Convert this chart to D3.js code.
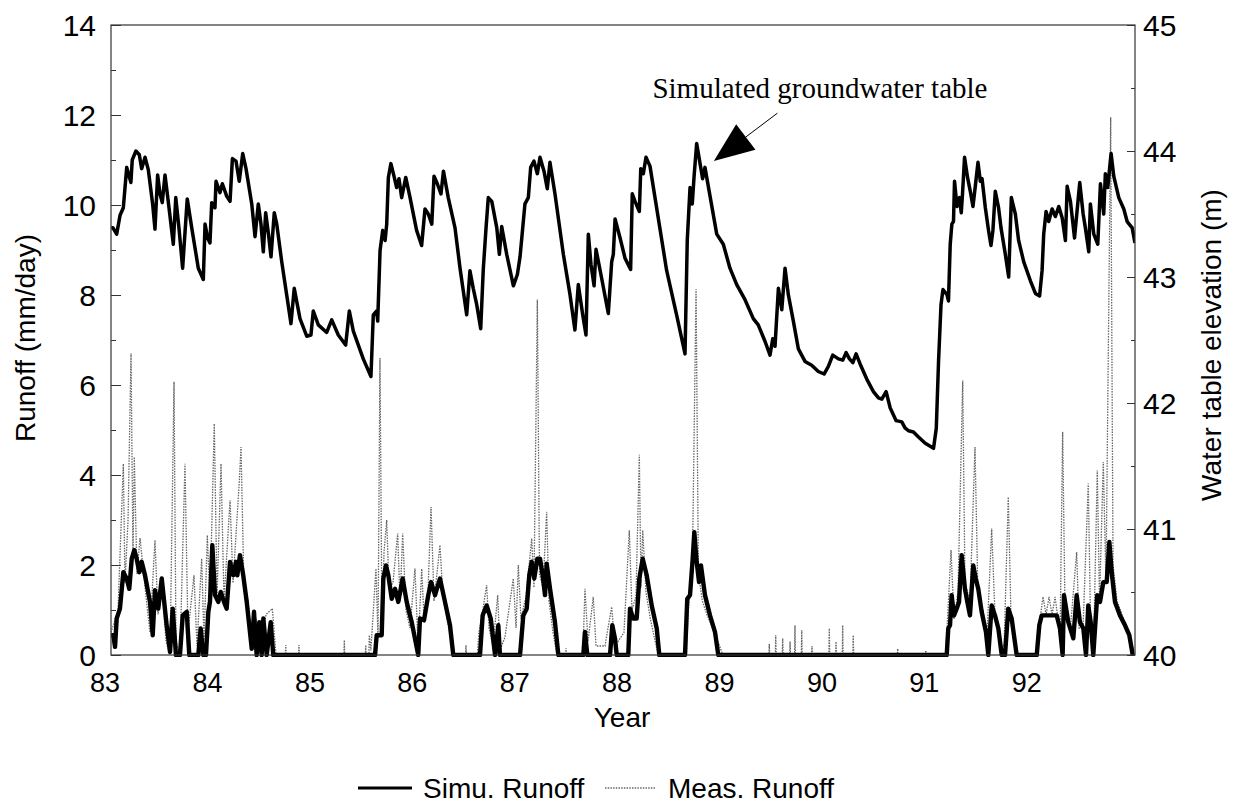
<!DOCTYPE html>
<html>
<head>
<meta charset="utf-8">
<script src="https://cdn.jsdelivr.net/npm/d3@7"></script>
<style>
  body { margin: 0; background: #fff; }
  svg text { font-family: "Liberation Sans", Arial, sans-serif; fill: #000; }
</style>
</head>
<body>
<div id="chart"></div>
<script>
// ---- data ----
var yearTicks = [83, 84, 85, 86, 87, 88, 89, 90, 91, 92];
var runoffTicks = [0, 2, 4, 6, 8, 10, 12, 14];
var runoffMinor = [1, 3, 5, 7, 9, 11, 13];
var elevTicks = [40, 41, 42, 43, 44, 45];
var elevMinor = [40.5, 41.5, 42.5, 43.5, 44.5];

// simulated groundwater table [year, m]
var waterTable = [
  [83.065,43.39],[83.082,43.39],[83.118,43.34],[83.151,43.49],[83.183,43.55],[83.216,43.87],[83.257,43.75],
  [83.270,43.93],[83.306,44.00],[83.339,43.97],[83.362,43.86],[83.395,43.95],[83.427,43.85],[83.469,43.58],
  [83.492,43.38],[83.518,43.81],[83.541,43.66],[83.563,43.59],[83.590,43.81],[83.629,43.55],[83.671,43.26],
  [83.695,43.63],[83.726,43.39],[83.762,43.07],[83.807,43.62],[83.851,43.39],[83.915,43.07],[83.964,42.98],
  [83.981,43.42],[84.006,43.31],[84.029,43.27],[84.046,43.59],[84.078,43.55],[84.088,43.76],[84.127,43.67],
  [84.150,43.74],[84.193,43.64],[84.225,43.60],[84.248,43.94],[84.283,43.92],[84.315,43.76],[84.349,43.98],
  [84.381,43.86],[84.437,43.58],[84.469,43.32],[84.501,43.58],[84.527,43.42],[84.550,43.20],[84.573,43.51],
  [84.599,43.35],[84.625,43.16],[84.657,43.51],[84.681,43.42],[84.730,43.12],[84.778,42.86],[84.820,42.63],
  [84.852,42.91],[84.908,42.67],[84.974,42.53],[85.015,42.54],[85.038,42.73],[85.087,42.62],[85.169,42.56],
  [85.218,42.66],[85.282,42.54],[85.354,42.46],[85.390,42.73],[85.429,42.57],[85.526,42.35],[85.601,42.21],
  [85.624,42.70],[85.657,42.73],[85.667,42.65],[85.690,43.21],[85.716,43.37],[85.739,43.29],[85.755,43.42],
  [85.771,43.79],[85.796,43.90],[85.829,43.79],[85.852,43.71],[85.875,43.78],[85.901,43.63],[85.941,43.79],
  [85.983,43.63],[86.047,43.37],[86.096,43.25],[86.129,43.54],[86.161,43.50],[86.195,43.42],[86.217,43.80],
  [86.249,43.74],[86.285,43.66],[86.309,43.84],[86.356,43.63],[86.422,43.39],[86.471,43.07],[86.536,42.70],
  [86.568,43.05],[86.600,42.91],[86.634,42.78],[86.673,42.59],[86.698,43.06],[86.725,43.39],[86.747,43.63],
  [86.781,43.60],[86.830,43.39],[86.855,43.18],[86.878,43.40],[86.927,43.18],[86.992,42.93],[87.031,43.02],
  [87.057,43.16],[87.105,43.58],[87.138,43.63],[87.161,43.87],[87.193,43.92],[87.226,43.82],[87.252,43.95],
  [87.291,43.84],[87.323,43.70],[87.349,43.91],[87.398,43.66],[87.480,43.18],[87.545,42.86],[87.593,42.58],
  [87.626,42.94],[87.669,42.70],[87.701,42.54],[87.724,43.34],[87.750,43.10],[87.780,42.93],[87.799,43.22],
  [87.854,42.99],[87.919,42.71],[87.952,43.12],[87.968,43.18],[87.985,43.46],[88.034,43.31],[88.082,43.15],
  [88.137,43.06],[88.153,43.66],[88.180,43.60],[88.222,43.52],[88.236,43.86],[88.261,43.82],[88.287,43.95],
  [88.326,43.88],[88.375,43.63],[88.489,43.05],[88.586,42.70],[88.668,42.39],[88.690,43.29],[88.717,43.71],
  [88.739,43.58],[88.756,43.79],[88.782,44.06],[88.815,43.90],[88.840,43.78],[88.863,43.87],[88.978,43.34],
  [89.042,43.26],[89.107,43.07],[89.173,42.94],[89.254,42.82],[89.335,42.67],[89.383,42.62],[89.449,42.49],
  [89.498,42.38],[89.525,42.51],[89.547,42.45],[89.580,42.91],[89.613,42.74],[89.645,43.07],[89.677,42.86],
  [89.726,42.65],[89.775,42.43],[89.840,42.33],[89.905,42.30],[89.970,42.25],[90.026,42.23],[90.068,42.29],
  [90.111,42.38],[90.166,42.35],[90.209,42.34],[90.241,42.40],[90.274,42.35],[90.307,42.32],[90.339,42.39],
  [90.378,42.31],[90.443,42.19],[90.508,42.09],[90.557,42.04],[90.590,42.03],[90.632,42.09],[90.672,41.96],
  [90.730,41.86],[90.785,41.85],[90.818,41.80],[90.850,41.78],[90.899,41.77],[90.948,41.73],[91.014,41.68],
  [91.095,41.64],[91.122,41.80],[91.144,42.33],[91.168,42.78],[91.187,42.90],[91.226,42.86],[91.241,42.81],
  [91.258,43.26],[91.274,43.42],[91.290,43.44],[91.300,43.76],[91.324,43.56],[91.349,43.63],[91.366,43.51],
  [91.378,43.66],[91.398,43.95],[91.427,43.79],[91.454,43.68],[91.480,43.56],[91.503,43.72],[91.529,43.91],
  [91.552,43.76],[91.569,43.78],[91.601,43.55],[91.632,43.37],[91.656,43.25],[91.675,43.37],[91.698,43.68],
  [91.730,43.55],[91.754,43.39],[91.796,43.18],[91.829,43.00],[91.855,43.63],[91.894,43.50],[91.926,43.29],
  [91.976,43.12],[92.041,42.97],[92.090,42.87],[92.131,42.85],[92.155,43.05],[92.171,43.34],[92.194,43.52],
  [92.220,43.44],[92.253,43.54],[92.285,43.48],[92.318,43.56],[92.351,43.47],[92.383,43.29],[92.400,43.72],
  [92.432,43.60],[92.472,43.31],[92.523,43.75],[92.556,43.50],[92.578,43.39],[92.611,43.20],[92.627,43.58],
  [92.660,43.34],[92.699,43.26],[92.725,43.74],[92.757,43.50],[92.773,43.82],[92.796,43.71],[92.829,43.98],
  [92.855,43.80],[92.904,43.63],[92.953,43.54],[92.986,43.44],[93.035,43.39],[93.062,43.27]
];

// simulated runoff [year, mm/day]
var simRunoff = [
  [83.063,0.44],[83.085,0.44],[83.102,0.18],[83.118,0.81],[83.150,1.03],[83.183,1.84],[83.216,1.70],
  [83.241,1.47],[83.265,2.14],[83.290,2.33],[83.313,2.14],[83.339,1.84],[83.362,2.07],[83.395,1.77],
  [83.443,1.18],[83.470,0.44],[83.492,1.44],[83.524,1.03],[83.558,1.70],[83.606,0.66],[83.639,0.07],
  [83.665,1.03],[83.697,0],[83.736,0],[83.763,0.88],[83.802,0.96],[83.827,0],[83.915,0],[83.938,0.59],
  [83.964,0],[83.990,0],[84.013,0.96],[84.029,1.18],[84.052,2.44],[84.078,1.33],[84.110,1.18],[84.134,1.40],
  [84.166,1.18],[84.192,1.03],[84.225,2.07],[84.257,1.77],[84.283,2.07],[84.296,1.77],[84.322,2.22],
  [84.354,1.77],[84.388,1.18],[84.437,0.14],[84.459,0.96],[84.485,0],[84.511,0.73],[84.534,0],[84.550,0.81],
  [84.583,0],[84.622,0.73],[84.647,0],[85.641,0],[85.657,0.44],[85.706,0.44],[85.722,1.70],[85.748,1.99],
  [85.771,1.77],[85.804,1.25],[85.836,1.47],[85.868,1.18],[85.911,1.70],[85.950,1.18],[85.999,0.73],
  [86.063,0],[86.080,0.81],[86.119,0.77],[86.161,1.33],[86.188,1.62],[86.227,1.33],[86.275,1.70],
  [86.324,1.18],[86.373,0.66],[86.405,0],[86.666,0],[86.692,0.88],[86.731,1.10],[86.771,0.81],[86.813,0],
  [86.845,0.66],[86.861,0],[87.057,0],[87.089,0.88],[87.122,1.03],[87.147,1.77],[87.171,2.07],[87.196,1.70],
  [87.226,2.14],[87.252,2.14],[87.278,1.77],[87.301,1.33],[87.317,2.03],[87.350,1.47],[87.398,0.73],
  [87.431,0],[87.675,0],[87.691,0.51],[87.714,0],[87.936,0],[87.958,0.66],[87.984,0.37],[88.001,0],
  [88.114,0],[88.131,1.03],[88.163,0.81],[88.196,0.81],[88.222,1.70],[88.255,2.14],[88.294,1.77],
  [88.343,1.10],[88.392,0.59],[88.417,0],[88.668,0],[88.690,1.25],[88.717,1.33],[88.743,2.14],[88.759,2.73],
  [88.782,2.07],[88.805,1.62],[88.824,1.99],[88.863,1.33],[88.912,0.88],[88.961,0.51],[88.993,0],
  [91.224,0],[91.239,0.59],[91.256,0.66],[91.272,1.33],[91.295,0.88],[91.321,1.03],[91.344,1.18],
  [91.370,2.22],[91.402,1.47],[91.425,1.18],[91.451,0.88],[91.483,1.99],[91.507,1.70],[91.532,1.47],
  [91.565,0.96],[91.607,0.51],[91.630,0],[91.663,1.10],[91.695,0.88],[91.728,0.59],[91.761,0],[91.793,0],
  [91.825,1.03],[91.858,0.81],[91.907,0],[92.103,0],[92.128,0.66],[92.151,0.88],[92.298,0.88],[92.330,0.59],
  [92.356,0],[92.369,1.33],[92.411,0.73],[92.460,0.37],[92.493,1.33],[92.525,0.73],[92.558,0.59],[92.584,0],
  [92.606,1.10],[92.630,0.73],[92.655,0],[92.694,1.33],[92.721,1.18],[92.753,1.62],[92.786,1.62],
  [92.812,2.51],[92.838,1.77],[92.867,1.18],[92.916,0.88],[92.965,0.66],[93.007,0.44],[93.040,0]
];

// measured runoff [year, mm/day]
var measRunoff = [
  [83.063,0.5],[83.131,1.0],[83.183,4.25],[83.199,1.6],[83.229,3.0],[83.258,6.7],[83.277,2.2],[83.290,4.4],
  [83.316,1.8],[83.346,2.6],[83.395,1.5],[83.443,0.5],[83.492,2.55],[83.521,0.9],[83.561,1.5],[83.600,0.3],
  [83.639,0],[83.678,6.07],[83.697,0.3],[83.736,0],[83.785,4.25],[83.814,0.5],[83.873,1.77],[83.902,0.2],
  [83.948,2.14],[83.971,0.3],[84.003,2.66],[84.029,1.2],[84.071,5.14],[84.098,1.3],[84.137,4.25],
  [84.166,1.2],[84.225,3.44],[84.254,1.6],[84.315,3.84],[84.332,4.62],[84.361,1.5],[84.400,1.2],
  [84.439,0.3],[84.479,0.8],[84.537,0.3],[84.576,0.9],[84.638,1.03],[84.674,0],
  [84.765,0],[84.769,0.22],[84.773,0],[84.894,0],[84.898,0.22],[84.902,0],[85.337,0],[85.341,0.33],
  [85.345,0],[85.546,0],[85.550,0.22],[85.554,0],[85.581,0],[85.585,0.44],[85.600,0.1],
  [85.650,1.92],[85.670,0.4],[85.689,6.6],[85.709,0.6],[85.729,2.3],[85.755,3.0],[85.777,1.5],[85.816,1.6],
  [85.862,2.7],[85.885,1.2],[85.911,2.7],[85.943,1.0],[85.982,0.6],[86.031,1.92],[86.061,0.2],[86.097,1.92],
  [86.119,0.8],[86.158,1.4],[86.188,3.29],[86.217,1.2],[86.275,2.44],[86.305,1.3],[86.344,0.8],[86.393,0.2],
  [86.422,0],[86.525,0],[86.529,0.22],[86.533,0],[86.640,0],[86.656,0.51],[86.686,0.9],[86.731,1.55],
  [86.754,0.6],[86.793,0.2],[86.839,1.33],[86.861,0.1],[86.910,0.4],[86.991,1.70],[87.018,0.6],[87.040,2.0],
  [87.066,0.8],[87.115,1.3],[87.171,2.59],[87.193,1.5],[87.226,7.9],[87.247,1.8],[87.281,1.5],[87.317,3.18],
  [87.340,1.2],[87.379,0.5],[87.418,0],[87.502,0],[87.506,0.15],[87.510,0],[87.670,0],[87.691,1.47],
  [87.721,0.3],[87.772,1.29],[87.799,0.2],[87.887,0.2],[87.916,0.6],[87.952,1.07],[87.975,0.4],[88.014,0.3],
  [88.072,0.5],[88.124,2.77],[88.150,1.0],[88.189,1.3],[88.222,4.45],[88.238,1.5],[88.255,2.77],[88.287,1.4],
  [88.330,0.8],[88.377,0.3],[88.406,0],[88.682,0],[88.701,1.0],[88.740,2.0],[88.776,8.13],[88.799,1.8],
  [88.838,1.2],[88.881,0.9],[88.938,0.6],[88.990,0.3],[89.037,0],
  [89.487,0],[89.491,0.25],[89.495,0],[89.550,0],[89.554,0.44],[89.558,0],[89.618,0],[89.622,0.37],
  [89.626,0],[89.690,0],[89.694,0.3],[89.698,0],[89.738,0],[89.742,0.66],[89.746,0],[89.804,0],
  [89.808,0.55],[89.812,0],[89.904,0],[89.908,0.2],[89.912,0],[90.073,0],[90.077,0.59],[90.081,0],
  [90.139,0],[90.143,0.3],[90.147,0],[90.204,0],[90.208,0.66],[90.212,0],[90.307,0],[90.311,0.44],
  [90.315,0],[90.741,0],[90.745,0.14],[90.749,0],[91.016,0],[91.020,0.1],[91.024,0],
  [91.212,0],[91.218,0.2],[91.266,2.33],[91.295,0.8],[91.334,1.4],[91.380,6.1],[91.402,1.6],[91.451,1.2],
  [91.500,4.62],[91.529,1.3],[91.578,1.0],[91.617,0.4],[91.663,2.81],[91.695,0.9],[91.744,0.2],[91.784,0.2],
  [91.825,3.51],[91.852,0.8],[91.891,0.2],[91.920,0],[92.095,0],[92.103,0.37],[92.135,0.8],[92.164,1.29],
  [92.194,0.9],[92.223,1.29],[92.252,0.9],[92.282,1.29],[92.311,0.8],[92.330,0.3],[92.356,4.96],[92.379,1.0],
  [92.428,0.5],[92.493,2.29],[92.516,0.6],[92.555,0.6],[92.606,3.81],[92.628,0.8],[92.662,0.6],[92.694,4.1],
  [92.716,1.2],[92.753,4.29],[92.779,1.6],[92.825,11.95],[92.848,2.0],[92.887,1.2],[92.936,0.9],
  [92.975,0.6],[93.023,0.3],[93.053,0.1]
];

// annotation anchor points [year, m]
var annotText = [88.35, 44.42];
var annotTip = [88.95, 43.92];
var annotTail = [89.57, 44.30];

// ---- drawing ----
var width = 1236, height = 804;
var plotL = 111, plotR = 1135, plotT = 25, plotB = 655;

var svg = d3.select("#chart").append("svg")
    .attr("width", width)
    .attr("height", height);

var x = d3.scaleLinear().domain([83.0625, 93.0625]).range([plotL, plotR]);
var yL = d3.scaleLinear().domain([0, 14]).range([plotB, plotT]);
var yR = d3.scaleLinear().domain([40, 45]).range([plotB, plotT]);

svg.append("clipPath").attr("id", "plotclip")
  .append("rect").attr("x", plotL).attr("y", plotT - 2)
  .attr("width", plotR - plotL).attr("height", plotB - plotT + 4);

var plot = svg.append("g").attr("clip-path", "url(#plotclip)");

var lineL = d3.line().x(function(d){ return x(d[0]); }).y(function(d){ return yL(d[1]); });
var lineR = d3.line().x(function(d){ return x(d[0]); }).y(function(d){ return yR(d[1]); });

// measured runoff (dotted grey)
plot.append("path").datum(measRunoff)
  .attr("d", lineL)
  .attr("fill", "none")
  .attr("stroke", "#666")
  .attr("stroke-width", 1.3)
  .attr("stroke-dasharray", "1.5,1.2");

// simulated runoff
plot.append("path").datum(simRunoff)
  .attr("d", lineL)
  .attr("fill", "none")
  .attr("stroke", "#000")
  .attr("stroke-width", 4.4)
  .attr("stroke-linejoin", "round");

// water table
plot.append("path").datum(waterTable)
  .attr("d", lineR)
  .attr("fill", "none")
  .attr("stroke", "#000")
  .attr("stroke-width", 3.5)
  .attr("stroke-linejoin", "round");

// frame
svg.append("rect")
  .attr("x", plotL).attr("y", plotT)
  .attr("width", plotR - plotL).attr("height", plotB - plotT)
  .attr("fill", "none").attr("stroke", "#333").attr("stroke-width", 1.2);

// left axis
var axL = svg.append("g").attr("transform", "translate(" + plotL + ",0)")
  .call(d3.axisLeft(yL).tickValues(runoffTicks).tickSizeInner(-10).tickSizeOuter(0).tickPadding(15));
svg.append("g").attr("transform", "translate(" + plotL + ",0)")
  .call(d3.axisLeft(yL).tickValues(runoffMinor).tickSizeInner(-5).tickSizeOuter(0).tickFormat(""));

// right axis
var axR = svg.append("g").attr("transform", "translate(" + plotR + ",0)")
  .call(d3.axisRight(yR).tickValues(elevTicks).tickSizeInner(-8).tickSizeOuter(0).tickPadding(8)
    .tickFormat(d3.format("d")));
svg.append("g").attr("transform", "translate(" + plotR + ",0)")
  .call(d3.axisRight(yR).tickValues(elevMinor).tickSizeInner(-4).tickSizeOuter(0).tickFormat(""));

// bottom axis (labels only)
var axB = svg.append("g").attr("transform", "translate(0," + plotB + ")")
  .call(d3.axisBottom(x).tickValues(yearTicks).tickSize(0).tickPadding(18).tickFormat(d3.format("d")));

svg.selectAll(".domain").remove();
svg.selectAll(".tick line").attr("stroke", "#333").attr("stroke-width", 1);
axL.selectAll("text").style("font-size", "30px").attr("dy", "0.36em");
axR.selectAll("text").style("font-size", "30px").attr("dy", "0.36em");
axB.selectAll("text").style("font-size", "27px");

// axis titles
svg.append("text")
  .attr("transform", "translate(35,338) rotate(-90)")
  .attr("text-anchor", "middle")
  .style("font-size", "28px")
  .text("Runoff (mm/day)");

svg.append("text")
  .attr("transform", "translate(1221,345) rotate(-90)")
  .attr("text-anchor", "middle")
  .style("font-size", "28px")
  .text("Water table elevation (m)");

svg.append("text")
  .attr("x", 622).attr("y", 727)
  .attr("text-anchor", "middle")
  .style("font-size", "28px")
  .text("Year");

// annotation
svg.append("text")
  .attr("x", x(annotText[0])).attr("y", yR(annotText[1]))
  .style("font-family", "'Liberation Serif', 'Times New Roman', serif")
  .style("font-size", "29px")
  .text("Simulated groundwater table");

var tip = [x(annotTip[0]), yR(annotTip[1])];
var tail = [x(annotTail[0]), yR(annotTail[1])];
var dx = tail[0] - tip[0], dy = tail[1] - tip[1];
var len = Math.sqrt(dx * dx + dy * dy);
var ux = dx / len, uy = dy / len;
var headLen = 40, headHalf = 16;
var bx = tip[0] + ux * headLen, by = tip[1] + uy * headLen;

svg.append("line")
  .attr("x1", bx).attr("y1", by).attr("x2", tail[0]).attr("y2", tail[1])
  .attr("stroke", "#000").attr("stroke-width", 1);

svg.append("path")
  .attr("d", "M" + tip[0] + "," + tip[1] +
             "L" + (bx - uy * headHalf) + "," + (by + ux * headHalf) +
             "L" + (bx + uy * headHalf) + "," + (by - ux * headHalf) + "Z")
  .attr("fill", "#000");

// legend
var legend = svg.append("g");
legend.append("line")
  .attr("x1", 358).attr("x2", 412).attr("y1", 788).attr("y2", 788)
  .attr("stroke", "#000").attr("stroke-width", 3);
legend.append("text")
  .attr("x", 423).attr("y", 798)
  .style("font-size", "28px")
  .text("Simu. Runoff");
legend.append("line")
  .attr("x1", 605).attr("x2", 655).attr("y1", 788).attr("y2", 788)
  .attr("stroke", "#666").attr("stroke-width", 1.3)
  .attr("stroke-dasharray", "1.5,1.2");
legend.append("text")
  .attr("x", 668).attr("y", 798)
  .style("font-size", "28px")
  .text("Meas. Runoff");
</script>
</body>
</html>
